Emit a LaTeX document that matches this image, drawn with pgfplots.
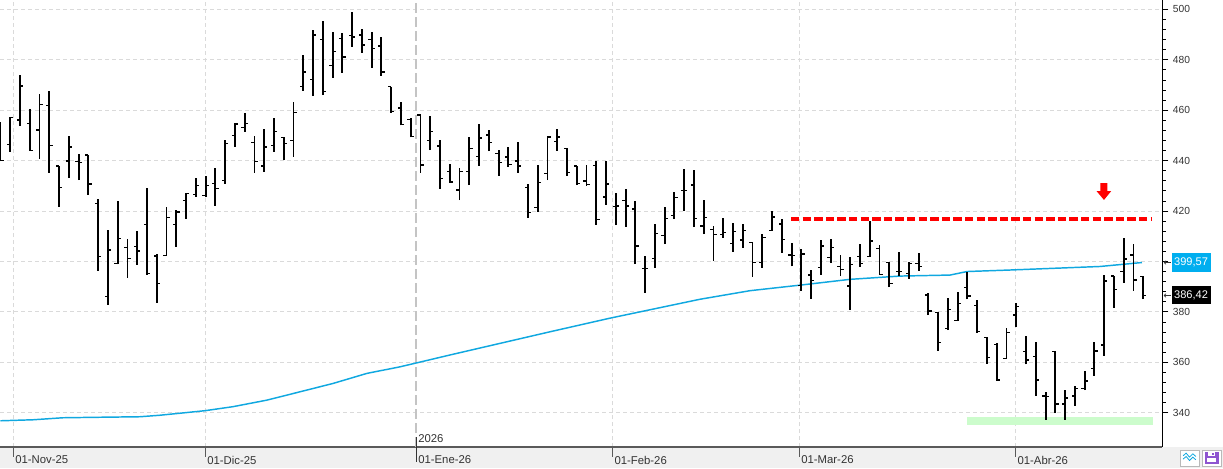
\documentclass[border=0pt]{standalone}
\usepackage{pgfplots}
\pgfplotsset{compat=1.18}
\usepackage{pgfplotstable}
\usepackage{fontspec}
\setmainfont{Liberation Sans}
\usetikzlibrary{arrows.meta}
\definecolor{macyan}{HTML}{10A8E0}
\definecolor{boxcyan}{HTML}{00AEEF}
\definecolor{gridgray}{HTML}{DADADA}
\definecolor{yeargray}{HTML}{C4C4C4}
\definecolor{bandgray}{HTML}{F0F0F0}
\definecolor{axisdark}{HTML}{5A5A5A}
\definecolor{textdark}{HTML}{333333}
\definecolor{greenband}{HTML}{CCFCCC}
\definecolor{floppy}{HTML}{8E55D0}

\pgfplotstableread{
x O H L C
0 450.0 455.2 439.8 440.0
1 446.4 457.4 443.5 457.1
2 456.1 473.9 453.8 469.6
3 454.8 460.4 443.9 444.0
4 452.1 466.4 440.7 462.3
5 461.9 467.7 435.2 446.0
6 437.8 437.8 421.7 429.4
7 439.8 449.7 433.2 445.4
8 439.6 442.6 432.3 439.3
9 442.2 442.2 426.5 430.7
10 423.0 424.7 396.3 402.0
11 386.2 412.4 382.8 404.5
12 399.2 423.9 398.8 409.1
13 405.6 408.9 393.5 401.3
14 406.0 412.0 398.7 404.1
15 414.7 429.0 394.8 395.2
16 402.2 402.8 383.6 391.3
17 402.4 421.6 402.4 417.5
18 414.7 420.6 405.8 419.6
19 424.3 427.2 416.9 427.0
20 426.5 432.9 425.7 430.2
21 426.1 433.9 425.4 430.2
22 431.0 436.9 422.1 429.0
23 432.1 448.1 430.8 446.8
24 450.0 454.8 445.5 454.5
25 453.2 458.7 451.5 454.8
26 447.2 449.7 435.2 439.7
27 437.8 452.5 435.6 445.4
28 446.0 456.9 443.5 451.6
29 449.1 449.5 440.2 446.8
30 448.0 463.2 441.5 459.1
31 469.4 482.0 467.7 475.1
32 472.2 491.7 465.7 489.8
33 488.1 495.4 466.1 467.5
34 477.8 491.0 472.9 483.3
35 488.5 490.5 474.9 481.1
36 489.7 498.9 485.2 489.0
37 489.8 492.1 482.8 485.8
38 488.1 491.0 476.9 484.5
39 485.5 489.0 473.7 475.1
40 469.3 469.3 459.0 459.4
41 460.8 463.1 454.0 454.2
42 456.3 456.8 449.2 449.6
43 458.1 458.5 435.2 438.2
44 448.1 457.7 444.2 451.6
45 445.8 448.1 428.8 432.9
46 435.8 438.6 431.2 431.5
47 428.3 436.9 424.3 435.8
48 435.8 449.5 430.3 444.8
49 441.5 454.5 438.0 448.9
50 450.1 452.1 443.8 447.2
51 442.9 444.2 433.9 439.3
52 441.4 445.5 437.6 438.4
53 439.8 447.4 435.2 437.8
54 429.2 430.8 417.3 419.3
55 421.5 438.2 419.7 431.4
56 434.9 449.7 432.3 449.4
57 447.5 452.5 443.9 449.4
58 444.8 444.8 434.0 435.3
59 437.8 437.8 430.3 431.0
60 431.9 438.2 430.0 430.6
61 438.1 439.8 414.6 416.7
62 425.5 439.8 422.5 430.7
63 421.7 427.2 414.4 422.0
64 424.3 428.7 413.8 422.0
65 420.8 423.9 398.9 406.1
66 397.2 402.2 387.6 397.2
67 401.2 414.8 397.4 411.1
68 410.2 421.6 406.9 417.1
69 418.3 427.5 416.8 425.4
70 428.2 436.6 420.0 428.2
71 430.3 436.2 413.6 417.1
72 414.0 424.3 410.8 417.5
73 412.8 414.0 400.3 410.7
74 410.7 417.1 409.4 411.5
75 407.1 415.2 403.8 412.0
76 408.5 414.8 405.4 412.2
77 407.4 407.6 393.9 399.5
78 399.5 410.7 397.5 409.5
79 412.3 420.2 412.2 417.6
80 414.8 416.8 403.4 408.7
81 402.6 407.3 398.0 402.4
82 390.5 404.8 388.4 402.9
83 394.6 396.6 385.2 392.5
84 397.6 408.5 394.7 406.1
85 401.6 408.9 399.5 405.6
86 398.1 402.5 394.2 396.8
87 390.2 401.7 380.9 398.8
88 401.9 406.9 397.9 399.3
89 402.0 416.1 401.9 408.1
90 405.2 406.5 394.6 394.9
91 399.7 399.9 389.8 391.3
92 395.9 403.7 394.2 395.9
93 395.2 399.9 393.1 399.3
94 399.3 403.2 396.3 398.1
95 386.7 387.3 378.7 380.3
96 379.8 379.8 364.6 367.9
97 373.4 385.6 372.8 381.0
98 376.5 387.8 376.3 383.3
99 389.7 396.0 385.0 386.3
100 382.4 384.7 371.7 372.1
101 369.9 370.1 359.5 361.9
102 367.1 367.5 352.6 353.0
103 361.6 373.5 361.6 371.9
104 378.7 383.4 374.1 382.0
105 364.2 370.4 359.2 360.9
106 362.4 368.1 346.7 353.0
107 346.6 348.3 337.3 346.4
108 364.2 364.5 339.8 343.4
109 343.4 349.2 337.3 345.8
110 346.6 350.6 342.8 349.6
111 349.6 356.7 349.0 352.6
112 357.6 368.1 354.7 364.5
113 366.9 394.6 362.5 392.2
114 394.2 394.2 381.6 388.9
115 395.9 409.4 391.5 401.0
116 402.5 406.9 388.4 392.6
117 393.9 394.2 385.1 386.42
}\ohlc

\pgfplotstableread{
x y
0 336.8
3.33 337.2
6.4 338.0
10.19 338.2
14.28 338.4
16.33 339.0
18.38 339.8
20.94 340.8
23.81 342.4
27.29 345.0
30.67 348.3
34.04 351.6
37.52 355.6
40.90 358.2
42.54 359.7
46.02 362.9
51.14 367.5
56.26 372.1
62.40 377.5
71.62 385.0
76.74 388.4
81.86 390.6
86.98 392.9
92.10 394.2
97.22 394.6
98.96 396.0
103.36 396.6
112.57 398.0
116.87 399.57
}\ma

\begin{document}
\begin{tikzpicture}[x=1pt,y=1pt]
\path[use as bounding box] (0,-15.75) rectangle (917.25,335.25);
\fill[bandgray] (0,-15.75) rectangle (917.25,0);
\begin{axis}[
  at={(0pt,0pt)}, anchor=south west, scale only axis,
  width=871.7pt, height=335.25pt,
  xmin=-0.05, xmax=118.95, ymin=326.4, ymax=503.7,
  axis x line*=bottom, axis y line*=right,
  x axis line style={draw=axisdark, line width=1pt, -},
  y axis line style={draw=black, line width=0.75pt, -},
  xtick={1.31,20.94,62.64,81.76,103.9}, xticklabels={}, xtick style={draw=none},
  ytick={340,360,...,500}, minor y tick num=4,
  yticklabels={340,360,380,,420,440,460,480,500},
  tick align=outside, major tick length=4.5pt, minor tick length=2.5pt,
  ytick style={black, line width=0.6pt},
  yticklabel style={anchor=west, font=\fontsize{7.7}{9}\selectfont, text=textdark},
  /pgf/number format/assume math mode=true,
  xmajorgrids, ymajorgrids,
  grid style={gridgray, line width=0.75pt, dash pattern=on 3pt off 2.25pt},
]
\draw[yeargray, line width=1pt, dash pattern=on 7.5pt off 3pt] (axis cs:42.54,326.4) -- (axis cs:42.54,503.7);
\fill[greenband] (axis cs:98.98,335.2) rectangle (axis cs:118.0,338.4);
\addplot[macyan, line width=1.1pt, mark=none] table[x=x,y=y] {\ma};
\addplot[draw=none, mark=none, forget plot, error bars/.cd, y dir=plus, y explicit, error mark=none,
  error bar style={draw=black, line width=1.4pt, solid}]
  table[x=x, y=L, y error plus expr=\thisrow{H}-\thisrow{L}] {\ohlc};
\addplot[draw=none, mark=none, forget plot, error bars/.cd, x dir=minus, x fixed=0.33, error mark=none,
  error bar style={draw=black, line width=1pt, solid}]
  table[x=x, y=O] {\ohlc};
\addplot[draw=none, mark=none, forget plot, error bars/.cd, x dir=plus, x fixed=0.33, error mark=none,
  error bar style={draw=black, line width=1pt, solid}]
  table[x=x, y=C] {\ohlc};
\addplot[red, line width=3pt, dash pattern=on 6.2pt off 2.5pt, mark=none] coordinates {(80.94,416.7) (117.9,416.7)};
\fill[red] (axis cs:112.62,431.1) -- (axis cs:113.33,431.1) -- (axis cs:113.33,427.9) -- (axis cs:113.72,427.9)
  -- (axis cs:112.98,424.4) -- (axis cs:112.22,427.9) -- (axis cs:112.62,427.9) -- cycle;
\end{axis}
% x ticks and labels
\foreach \X in {9.98,153.75,459.2,599.25,761.5}{
  \draw[axisdark, line width=0.75pt] (\X,0) -- (\X,-7.5);
}
\draw[textdark, line width=0.75pt] (312,7.5) -- (312,-11.25);
\node[anchor=west, inner sep=0, font=\fontsize{8.5}{10}\selectfont, text=textdark] at (313.5,6.2) {2026};
\node[anchor=west, inner sep=0, font=\fontsize{8.5}{10}\selectfont, text=textdark] at (11.3,-9.75) {01-Nov-25};
\node[anchor=west, inner sep=0, font=\fontsize{8.5}{10}\selectfont, text=textdark] at (155.3,-9.75) {01-Dic-25};
\node[anchor=west, inner sep=0, font=\fontsize{8.5}{10}\selectfont, text=textdark] at (313.5,-9.75) {01-Ene-26};
\node[anchor=west, inner sep=0, font=\fontsize{8.5}{10}\selectfont, text=textdark] at (460.7,-9.75) {01-Feb-26};
\node[anchor=west, inner sep=0, font=\fontsize{8.5}{10}\selectfont, text=textdark] at (600.8,-9.75) {01-Mar-26};
\node[anchor=west, inner sep=0, font=\fontsize{8.5}{10}\selectfont, text=textdark] at (763,-9.75) {01-Abr-26};
% value boxes
\fill[boxcyan] (879.2,131.5) rectangle (908.25,145.3);
\node[anchor=west, inner sep=0, text=white, font=\fontsize{8.3}{10}\selectfont] at (880.4,138.4) {399,57};
\fill[black] (879.2,107.0) rectangle (908.25,120.75);
\node[anchor=west, inner sep=0, text=white, font=\fontsize{8.3}{10}\selectfont] at (880.4,113.9) {386,42};
\draw[-{To[length=1.8pt,width=3pt]}, textdark, line width=0.5pt] (878.2,138.4) -- (872.8,138.4);
\draw[-{To[length=1.8pt,width=3pt]}, textdark, line width=0.5pt] (878.2,113.6) -- (872.8,113.6);
% buttons
\draw[gray!55, line width=0.75pt, fill=white] (885,-14.25) rectangle (899.25,-2.25);
\draw[macyan, line width=0.6pt] (887.3,-6.6) -- (889.6,-4.6) -- (892.1,-7.6) -- (894.6,-5.1) -- (896.9,-7.1);
\draw[macyan, line width=0.6pt] (887.3,-9.1) -- (889.6,-7.1) -- (892.1,-10.1) -- (894.6,-7.6) -- (896.9,-9.6);
\draw[gray!55, line width=0.75pt, fill=white] (901.5,-14.25) rectangle (915.75,-2.25);
\fill[floppy] (903.4,-12.6) rectangle (913.9,-3.9);
\fill[white] (905.3,-11.6) rectangle (912,-8.4);
\fill[white] (905.8,-3.9) rectangle (911,-6.4);
\fill[floppy] (909.3,-4.4) rectangle (910.4,-6);
\end{tikzpicture}
\end{document}
